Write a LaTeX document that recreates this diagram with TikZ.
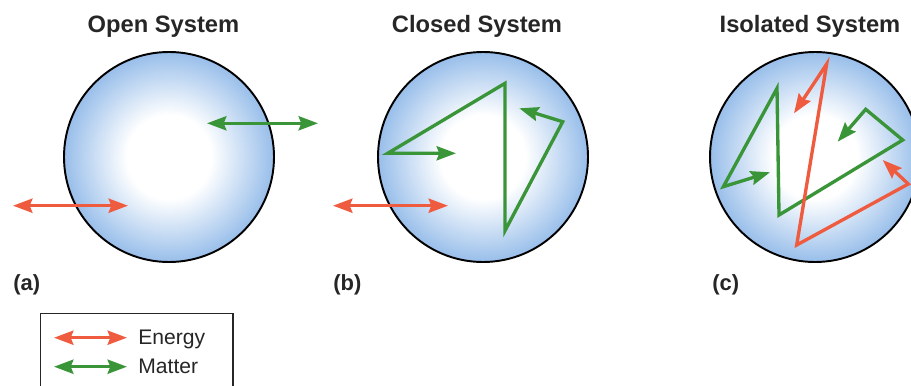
\documentclass[tikz,border=0pt]{standalone}
\usepackage{fontspec}
\setmainfont{Liberation Sans}
\usetikzlibrary{arrows.meta}

\definecolor{energyred}{RGB}{239,91,63}
\definecolor{mattergreen}{RGB}{58,148,56}
\definecolor{sysblue}{RGB}{152,190,234}
\pgfdeclareradialshading{sysball}{\pgfpointorigin}{color(0bp)=(white);color(10bp)=(white);color(25bp)=(sysblue);color(50bp)=(sysblue)}

\begin{document}
\begin{tikzpicture}[x=0.02cm,y=-0.02cm,
  system/.style={draw=black,line width=1.1pt,shading=sysball},
  flow/.style={line width=1.9pt,line join=miter,{Stealth[length=11pt,width=8pt,inset=1.5pt]}-{Stealth[length=11pt,width=8pt,inset=1.5pt]}},
  energy/.style={flow,draw=energyred,fill=none,color=energyred},
  matter/.style={flow,draw=mattergreen,color=mattergreen},
  ttl/.style={anchor=base,font=\fontsize{13.5}{16}\selectfont\bfseries,text=black!85},
  part/.style={anchor=base west,inner sep=0pt,font=\fontsize{12.5}{14}\selectfont\bfseries,text=black!85},
  legtext/.style={anchor=base west,inner sep=0pt,font=\fontsize{12}{14}\selectfont,text=black!85}]
\useasboundingbox (0,0) rectangle (911,385);
\clip (0,0) rectangle (911,385);
\foreach \cx in {169,483,815}{
\draw[system] (\cx,157) circle[radius=105];
}
\node[ttl] (ttlopen) at (163.5,32.5) {Open System};
\node[ttl] (ttlclosed) at (477,32.5) {Closed System};
\node[ttl] (ttliso) at (810,32.5) {Isolated System};
\node[part] (lbla) at (13,290) {(a)};
\node[part] (lblb) at (333,290) {(b)};
\node[part] (lblc) at (712,290) {(c)};
% (a)
\draw[energy] (13,205.7) -- (128,205.7);
\draw[matter] (207,123.3) -- (318,123.3);
% (b)
\draw[energy] (333,205.7) -- (448,205.7);
\draw[matter] (519.3,108.3) -- (562.7,121.7) -- (505,230.7) -- (505,83.3) -- (387.7,153.3) -- (456,153.3);
% (c)
\draw[matter] (837.7,141.7) -- (865.7,109.3) -- (902.7,140) -- (779,215) -- (777,88.3) -- (723.3,186.7) -- (770,172.3);
\draw[energy] (794,113.3) -- (826.7,64) -- (796.7,245) -- (908.3,184) -- (882.7,160);
% legend
\draw[line width=0.6pt,black!85] (40.7,313.3) rectangle (233,400);
\coordinate (ena) at (54,337.7);
\coordinate (enb) at (127,337.7);
\coordinate (maa) at (54,366.7);
\coordinate (mab) at (127,366.7);
\draw[energy] (ena) -- (enb);
\draw[matter] (maa) -- (mab);
\node[legtext] (legenergy) at (138,344.3) {Energy};
\node[legtext] (legmatter) at (138,373.3) {Matter};
\end{tikzpicture}
\end{document}
